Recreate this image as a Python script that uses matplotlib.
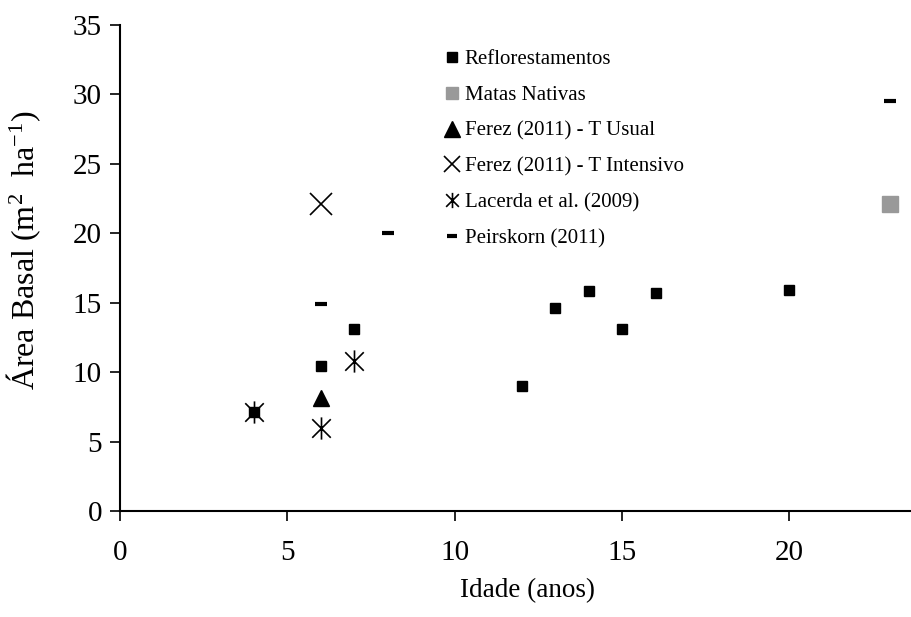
import matplotlib
matplotlib.use("Agg")
import matplotlib.pyplot as plt
from matplotlib.path import Path

plt.rcParams['font.family'] = ['Liberation Serif', 'DejaVu Serif']
plt.rcParams['mathtext.fontset'] = 'custom'
plt.rcParams['mathtext.rm'] = 'Liberation Serif'
plt.rcParams['mathtext.it'] = 'Liberation Serif:italic'

# Reflorestamentos
refl_age = [4, 6, 7, 12, 13, 14, 15, 16, 20]
refl_ab = [7.1, 10.4, 13.1, 9.0, 14.6, 15.8, 13.1, 15.7, 15.9]
# Matas Nativas
mata_age = [23]
mata_ab = [22.1]
# Ferez (2011) - T Usual
fu_age = [6]
fu_ab = [8.1]
# Ferez (2011) - T Intensivo
fi_age = [6]
fi_ab = [22.1]
# Lacerda et al. (2009)
lac_age = [4, 6, 7]
lac_ab = [7.1, 6.0, 10.8]
# Peirskorn (2011)
pei_age = [6, 8, 23]
pei_ab = [14.9, 20.0, 29.5]

xticks = [0, 5, 10, 15, 20]
yticks = [0, 5, 10, 15, 20, 25, 30, 35]

# asterisk made of an X and a vertical stroke
star = Path([(-1, -1), (1, 1), (-1, 1), (1, -1), (0, -1.2), (0, 1.2)],
            [Path.MOVETO, Path.LINETO, Path.MOVETO, Path.LINETO, Path.MOVETO, Path.LINETO])

fig = plt.figure(figsize=(9.11, 6.17), dpi=100)
ax = fig.add_axes([0.1317, 0.1718, 0.8683, 0.7882])

ax.plot(refl_age, refl_ab, ls='none', marker='s', ms=6.5, color='black', label='Reflorestamentos')
ax.plot(mata_age, mata_ab, ls='none', marker='s', ms=11, color='#999999', label='Matas Nativas')
ax.plot(fu_age, fu_ab, ls='none', marker='^', ms=12, color='black', label='Ferez (2011) - T Usual')
ax.plot(fi_age, fi_ab, ls='none', marker='x', ms=16, mew=1.2, color='black', label='Ferez (2011) - T Intensivo')
ax.plot(lac_age, lac_ab, ls='none', marker=star, ms=16, mew=1.2, color='black', label='Lacerda et al. (2009)')
ax.plot(pei_age, pei_ab, ls='none', marker='_', ms=8, mew=3, color='black', label='Peirskorn (2011)')

ax.set_xlim(0, 23.63)
ax.set_ylim(0, 35)
ax.set_xticks(xticks)
ax.set_yticks(yticks)
ax.tick_params(direction='out', length=7, width=1.2, labelsize=21, pad=14)
ax.tick_params(axis='y', pad=6)
for s in ['top', 'right']:
    ax.spines[s].set_visible(False)
for s in ['left', 'bottom']:
    ax.spines[s].set_linewidth(1.5)

ax.set_xlabel('Idade (anos)', fontsize=19.5)
ax.xaxis.set_label_coords(0.515, -0.137)
ax.set_ylabel('Área Basal (m$^{2}$  ha$^{\\mathregular{-1}}$)', fontsize=23)
ax.yaxis.set_label_coords(-0.097, 0.535)

leg = ax.legend(loc='upper left', bbox_to_anchor=(0.399, 0.966), frameon=False, fontsize=15,
                handlelength=0.8, handletextpad=0.2, labelspacing=0.78,
                borderaxespad=0)
for h, s in zip(leg.legend_handles, [6.5, 9, 11, 11, 11, 7]):
    h.set_markersize(s)

fig.savefig('out.png', dpi=100)
